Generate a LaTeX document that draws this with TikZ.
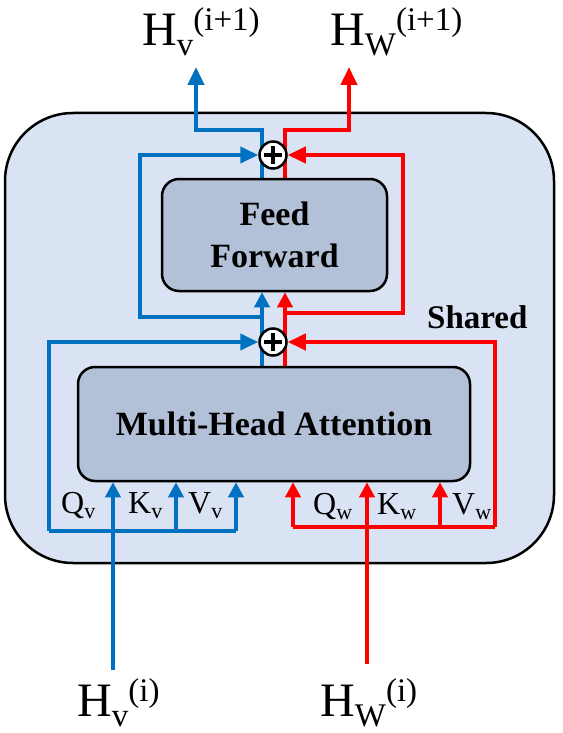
\documentclass[tikz,border=0pt]{standalone}
\usepackage{fontspec}
\setmainfont{Liberation Serif}
\usetikzlibrary{arrows.meta}
\definecolor{myblue}{RGB}{0,112,192}
\definecolor{myred}{RGB}{255,0,0}
\definecolor{outerfill}{RGB}{218,227,243}
\definecolor{innerfill}{RGB}{179,193,216}
\pgfdeclarelayer{bg}\pgfdeclarelayer{mid}\pgfsetlayers{bg,mid,main}
\newcommand{\Hlab}[2]{H\raisebox{-10pt}{\fontsize{33}{33}\selectfont #1}\raisebox{15pt}{\fontsize{33}{33}\selectfont #2}}
\newcommand{\qlab}[2]{#1\raisebox{-5pt}{\fontsize{22}{22}\selectfont #2}}
\begin{document}
\begin{tikzpicture}[x=1pt,y=-1pt,
  conn/.style={line width=4pt},
  bl/.style={conn,color=myblue},
  rd/.style={conn,color=myred},
  tipbig/.style={-{Triangle[width=16pt,length=18pt]}},
  tipsm/.style={-{Triangle[width=15pt,length=15pt]}},
  blockbox/.style={draw,line width=2.5pt,rounded corners=17pt,fill=innerfill,
    font=\fontsize{34}{42}\selectfont\bfseries,align=center,inner sep=0pt},
  plusnode/.style={circle,draw,line width=2.5pt,fill=white,minimum size=27pt,inner sep=0pt,
    path picture={\draw[line width=3.5pt,black]
      ([xshift=-9pt]path picture bounding box.center) -- ([xshift=9pt]path picture bounding box.center)
      ([yshift=-9pt]path picture bounding box.center) -- ([yshift=9pt]path picture bounding box.center);}},
  biglab/.style={font=\fontsize{48}{48}\selectfont,inner sep=0pt,anchor=base west},
  smlab/.style={font=\fontsize{32}{32}\selectfont,inner sep=0pt,anchor=base west}]

\useasboundingbox (0,0) rectangle (562,733);

% outer block
\begin{pgfonlayer}{bg}
\node[draw,line width=2.5pt,rounded corners=68pt,fill=outerfill,
      minimum width=549pt,minimum height=450pt,inner sep=0pt] (outer) at (279.5,338) {};
\end{pgfonlayer}

% blocks
\node[blockbox,minimum width=225pt,minimum height=112pt] (ff) at (274.5,235) {Feed\\Forward};
\node[blockbox,minimum width=392pt,minimum height=114pt] (mha) at (274,424) {Multi-Head Attention};
\node[plusnode] (p1) at (273,155) {};
\node[plusnode] (p2) at (273,342) {};

% labels
\node[biglab] (hvo) at (142,46) {\Hlab{v}{(i+1)}};
\node[biglab] (hwo) at (330,46) {\Hlab{W}{(i+1)}};
\node[biglab] (hvi) at (77,716) {\Hlab{v}{(i)}};
\node[biglab] (hwi) at (320,716) {\Hlab{W}{(i)}};
\node[smlab] (qv) at (61,513) {\qlab{Q}{v}};
\node[smlab] (kv) at (128,513) {\qlab{K}{v}};
\node[smlab] (vv) at (188,513) {\qlab{V}{v}};
\node[smlab] (qw) at (313,514) {\qlab{Q}{w}};
\node[smlab] (kw) at (377,514) {\qlab{K}{w}};
\node[smlab] (vw) at (452,514) {\qlab{V}{w}};
\node[font=\fontsize{33}{33}\selectfont\bfseries,inner sep=0pt,anchor=base west] (shared) at (427,328) {Shared};

% coordinates
\coordinate (bin) at (113,670);
\coordinate (bqL) at (49,531);
\coordinate (bqK) at (176,531);
\coordinate (bqR) at (236,531);
\coordinate (bx) at (262,317);
\coordinate (bxl) at (140,317);
\coordinate (btc) at (196,130);
\coordinate (bout) at (196,67);

\coordinate (rin) at (367,664);
\coordinate (rqL) at (293,527);
\coordinate (rqV) at (440,527);
\coordinate (rqR) at (495,527);
\coordinate (rx) at (285,313);
\coordinate (rxr) at (403,313);
\coordinate (rtc) at (349,130);
\coordinate (rout) at (349,67);

\begin{pgfonlayer}{mid}
% blue
\draw[bl,tipsm] (bin) -- (bin |- mha.south);
\draw[bl] (bqL) -- (bqR);
\draw[bl,tipsm] (bqK) -- (bqK |- mha.south);
\draw[bl,tipsm] (bqR) -- (bqR |- mha.south);
\draw[bl,tipbig] (bqL) -- (bqL |- p2) -- (p2.west);
\draw[bl,tipsm] (mha.north -| bx) -- (ff.south -| bx);
\draw[bl,tipbig] (bx) -- (bxl) -- (bxl |- p1) -- (p1.west);
\draw[bl,tipbig] (ff.north -| bx) |- (btc) -- (bout);
% red
\draw[rd,tipsm] (rin) -- (rin |- mha.south);
\draw[rd] (rqL) -- (rqR);
\draw[rd,tipsm] (rqL) -- (rqL |- mha.south);
\draw[rd,tipsm] (rqV) -- (rqV |- mha.south);
\draw[rd,tipbig] (rqR) -- (rqR |- p2) -- (p2.east);
\draw[rd,tipsm] (mha.north -| rx) -- (ff.south -| rx);
\draw[rd,tipbig] (rx) -- (rxr) -- (rxr |- p1) -- (p1.east);
\draw[rd,tipbig] (ff.north -| rx) |- (rtc) -- (rout);
\end{pgfonlayer}
\end{tikzpicture}
\end{document}
